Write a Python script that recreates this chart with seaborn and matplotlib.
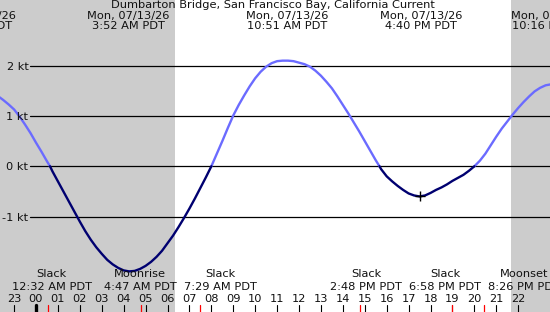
import matplotlib
matplotlib.use("Agg")
import matplotlib.pyplot as plt
import seaborn as sns
import pandas as pd

# ---------------- data ----------------
title = "Dumbarton Bridge, San Francisco Bay, California Current"

# tidal current (knots) vs hour of day (PDT)
hours = [-1.75, -1.5, -1.25, -1.0, -0.75, -0.5, -0.25, 0.0, 0.25, 0.5, 0.64,
         0.75, 1.0, 1.25, 1.5, 1.75, 2.0, 2.25, 2.5, 2.75, 3.0, 3.25, 3.5,
         3.75, 4.0, 4.25, 4.5, 4.75, 5.0, 5.25, 5.5, 5.75, 6.0, 6.25, 6.5,
         6.75, 7.0, 7.25, 7.5, 7.75, 8.0, 8.25, 8.5, 8.75, 9.0, 9.25, 9.5,
         9.75, 10.0, 10.25, 10.5, 10.75, 11.0, 11.25, 11.5, 11.75, 12.0,
         12.25, 12.5, 12.75, 13.0, 13.25, 13.5, 13.75, 14.0, 14.25, 14.5,
         14.75, 15.0, 15.25, 15.5, 15.67, 15.75, 16.0, 16.25, 16.5, 16.75,
         17.0, 17.25, 17.5, 17.75, 18.0, 18.25, 18.5, 18.75, 19.0, 19.25,
         19.5, 19.75, 20.0, 20.25, 20.5, 20.75, 21.0, 21.25, 21.5, 21.75,
         22.0, 22.25, 22.5, 22.75, 23.0, 23.25, 23.5]
knots = [1.40, 1.32, 1.23, 1.13, 0.99, 0.83, 0.66, 0.47, 0.29, 0.10, 0.0,
         -0.10, -0.30, -0.50, -0.70, -0.90, -1.10, -1.29, -1.46, -1.61, -1.74,
         -1.86, -1.95, -2.02, -2.07, -2.09, -2.08, -2.04, -1.98, -1.90, -1.80,
         -1.68, -1.53, -1.38, -1.21, -1.03, -0.84, -0.64, -0.43, -0.22, 0.0,
         0.25, 0.50, 0.76, 1.01, 1.22, 1.41, 1.59, 1.75, 1.88, 1.98, 2.05,
         2.09, 2.10, 2.10, 2.09, 2.06, 2.03, 1.98, 1.90, 1.80, 1.68, 1.55,
         1.39, 1.22, 1.05, 0.87, 0.69, 0.50, 0.31, 0.12, 0.0, -0.06, -0.20,
         -0.30, -0.39, -0.47, -0.54, -0.58, -0.60, -0.58, -0.53, -0.47, -0.42,
         -0.36, -0.29, -0.23, -0.17, -0.09, 0.0, 0.11, 0.25, 0.42, 0.59, 0.75,
         0.89, 1.03, 1.16, 1.28, 1.39, 1.49, 1.56, 1.61, 1.63]

ytick_values = [2, 1, 0, -1]
ytick_labels = ["2 kt", "1 kt", "0 kt", "-1 kt"]

hour_ticks = list(range(-1, 23))
hour_labels = ["23"] + [f"{h:02d}" for h in range(0, 23)]

# top labels: max/min current events
top_dates = ["Sun, 07/12/26", "Mon, 07/13/26", "Mon, 07/13/26", "Mon, 07/13/26", "Mon, 07/13/26"]
top_times = ["9:37 PM PDT", "3:52 AM PDT", "10:51 AM PDT", "4:40 PM PDT", "10:16 PM PDT"]

# bottom labels: slack / moon events
event_names = ["Slack", "Moonrise", "Slack", "Slack", "Slack", "Moonset"]
event_times = ["12:32 AM PDT", "4:47 AM PDT", "7:29 AM PDT", "2:48 PM PDT", "6:58 PM PDT", "8:26 PM PDT"]
event_hours = [0 + 32/60, 4 + 47/60, 7 + 29/60, 14 + 48/60, 18 + 58/60, 20 + 26/60]

daylight = (6.34, 21.67)   # sunrise / sunset shading bounds (hours)
marker_point = (17.52, -0.60)

# ---------------- layout (pixel geometry) ----------------
W, H = 550, 312
X0, X1 = -1.642, 23.45
Y0, Y1 = -2.897, 3.306

def px(x):
    return X0 + x / W * (X1 - X0)

def py(y):
    return Y1 - y / H * (Y1 - Y0)

top_centers_px = [-24, 128, 287, 421, 552]
bottom_centers_px = [51.7, 140, 220, 366, 445, 524]

FONT = "DejaVu Sans"
FS = 8.2
TXT = "#111111"

sns.set_theme(style="white")
plt.rcParams["font.family"] = [FONT]

fig = plt.figure(figsize=(W / 100, H / 100), dpi=100)
ax = fig.add_axes([0, 0, 1, 1])
ax.set_xlim(X0, X1)
ax.set_ylim(Y0, Y1)
ax.set_axis_off()
fig.patch.set_facecolor("#cccccc")

# night shading / daylight
ax.axvspan(X0, X1, color="#cccccc", zorder=0, lw=0)
ax.axvspan(daylight[0], daylight[1], color="white", zorder=0.5, lw=0)

# horizontal grid lines + labels
for v, lab in zip(ytick_values, ytick_labels):
    ax.axhline(v, xmin=30 / W, xmax=1, color="black", lw=0.9, zorder=1)
    ax.text(px(28.5), v, lab, ha="right", va="center_baseline", fontsize=FS,
            color=TXT, zorder=3)

# curve split into flood (>=0) and ebb (<=0) segments
sign = [1 if k > 0 else (-1 if k < 0 else 0) for k in knots]
rows = []
seg = 0
cur_sign = sign[0]
for i, (h, k) in enumerate(zip(hours, knots)):
    rows.append((h, k, seg, "flood" if cur_sign > 0 else "ebb"))
    if sign[i] == 0 and i + 1 < len(knots):
        seg += 1
        cur_sign = sign[i + 1]
        rows.append((h, k, seg, "flood" if cur_sign > 0 else "ebb"))
df = pd.DataFrame(rows, columns=["hour", "kt", "seg", "phase"])

sns.lineplot(data=df, x="hour", y="kt", units="seg", estimator=None,
             hue="phase", palette={"flood": "#6b6bff", "ebb": "#000070"},
             sort=False, legend=False, linewidth=1.7, ax=ax, zorder=2)

ax.plot([marker_point[0]], [marker_point[1]], marker="+", color="black",
        markersize=7, mew=1.0, zorder=4)

# title + top event labels
ax.text(px(273), py(8.5), title, ha="center", va="baseline", fontsize=FS, color=TXT)
for cx, d, t in zip(top_centers_px, top_dates, top_times):
    ax.text(px(cx), py(19.5), d, ha="center", va="baseline", fontsize=FS, color=TXT, clip_on=False)
    ax.text(px(cx), py(29.5), t, ha="center", va="baseline", fontsize=FS, color=TXT, clip_on=False)

# bottom event labels
for cx, n, t in zip(bottom_centers_px, event_names, event_times):
    ax.text(px(cx), py(277.5), n, ha="center", va="baseline", fontsize=FS, color=TXT)
    ax.text(px(cx), py(289.5), t, ha="center", va="baseline", fontsize=FS, color=TXT)

# hour ticks
tick_top = (H - 305) / H
for h, lab in zip(hour_ticks, hour_labels):
    lw = 2.4 if h == 0 else 0.8
    ax.axvline(h, ymin=0, ymax=tick_top, color="black", lw=lw, zorder=3)
    ax.text(h, py(301.8), lab, ha="center", va="baseline", fontsize=FS, color=TXT)
for h in event_hours:
    ax.axvline(h, ymin=0, ymax=tick_top, color="red", lw=0.9, zorder=3.5)

fig.savefig("out.png", dpi=100, facecolor=fig.get_facecolor())
